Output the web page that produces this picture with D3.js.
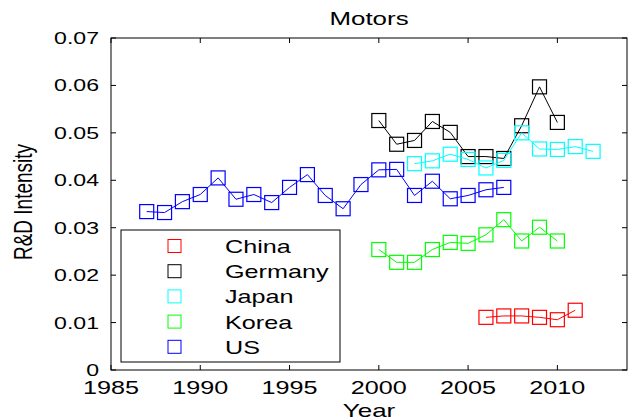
<!DOCTYPE html>
<html>
<head>
<meta charset="utf-8">
<script src="https://cdn.jsdelivr.net/npm/d3@7"></script>
<style>
  body { margin: 0; background: #fff; }
  text { font-family: "Liberation Sans", Arial, sans-serif; fill: #000; }
</style>
</head>
<body>
<svg id="chart" width="629" height="420"></svg>
<script>
// data
const countries = ['China', 'Germany', 'Japan', 'Korea', 'US'];
const colors = ['#ff0000', '#000000', '#00ffff', '#00ff00', '#0000ff'];

const chinaYears = [2006, 2007, 2008, 2009, 2010, 2011];
const chinaValues = [0.0111, 0.0114, 0.0114, 0.0111, 0.0106, 0.0126];

const germanyYears = [2000, 2001, 2002, 2003, 2004, 2005, 2006, 2007, 2008, 2009, 2010];
const germanyValues = [0.0526, 0.0476, 0.0484, 0.0524, 0.0501, 0.0450, 0.0450, 0.0446, 0.0515, 0.0597, 0.0522];

const japanYears = [2002, 2003, 2004, 2005, 2006, 2007, 2008, 2009, 2010, 2011, 2012];
const japanValues = [0.0435, 0.0441, 0.0455, 0.0444, 0.0426, 0.0442, 0.0500, 0.0466, 0.0465, 0.0471, 0.0461];

const koreaYears = [2000, 2001, 2002, 2003, 2004, 2005, 2006, 2007, 2008, 2009, 2010];
const koreaValues = [0.0254, 0.0227, 0.0227, 0.0254, 0.0269, 0.0267, 0.0285, 0.0317, 0.0272, 0.0301, 0.0272];

const usYears = [1987, 1988, 1989, 1990, 1991, 1992, 1993, 1994, 1995, 1996, 1997, 1998, 1999, 2000, 2001, 2002, 2003, 2004, 2005, 2006, 2007];
const usValues = [0.0334, 0.0332, 0.0355, 0.0370, 0.0405, 0.0360, 0.0370, 0.0353, 0.0385, 0.0412, 0.0368, 0.0340, 0.0391, 0.0422, 0.0423, 0.0368, 0.0398, 0.0361, 0.0368, 0.0380, 0.0385];

const xTicks = [1985, 1990, 1995, 2000, 2005, 2010];
const yTicks = [0, 0.01, 0.02, 0.03, 0.04, 0.05, 0.06, 0.07];

const series = [
  { name: 'China', years: chinaYears, values: chinaValues },
  { name: 'Germany', years: germanyYears, values: germanyValues },
  { name: 'Japan', years: japanYears, values: japanValues },
  { name: 'Korea', years: koreaYears, values: koreaValues },
  { name: 'US', years: usYears, values: usValues },
];

const svg = d3.select('#chart');
const margin = { left: 111, right: 2, top: 38, bottom: 50 };
const width = 629, height = 420;
const sx = 1.4; // the reference text is stretched sideways

const x = d3.scaleLinear().domain([1985, 2013.9]).range([margin.left, width - margin.right]);
const y = d3.scaleLinear().domain([0, 0.07]).range([height - margin.bottom, margin.top]);

function label(g, txt, px, py, size, anchor, rot) {
  return g.append('text')
    .attr('transform', `translate(${px},${py}) scale(${sx},1)` + (rot ? ` rotate(${rot})` : ''))
    .attr('text-anchor', anchor)
    .style('font-size', size + 'px')
    .text(txt);
}

const color = d3.scaleOrdinal().domain(countries).range(colors);

// axes box with inward ticks
const [x0, x1] = x.range();
const [y0, y1] = y.range();
const axes = svg.append('g');
axes.append('rect')
  .attr('x', x0).attr('y', y1)
  .attr('width', x1 - x0).attr('height', y0 - y1)
  .attr('fill', 'none').attr('stroke', '#000').attr('stroke-width', 1);

xTicks.forEach((t) => {
  const px = x(t);
  axes.append('line').attr('x1', px).attr('x2', px).attr('y1', y0).attr('y2', y0 - 5).attr('stroke', '#000');
  axes.append('line').attr('x1', px).attr('x2', px).attr('y1', y1).attr('y2', y1 + 5).attr('stroke', '#000');
  label(axes, t, px, y0 + 24, 18, 'middle');
});
yTicks.forEach((t) => {
  const py = y(t);
  axes.append('line').attr('x1', x0).attr('x2', x0 + 5).attr('y1', py).attr('y2', py).attr('stroke', '#000');
  axes.append('line').attr('x1', x1).attr('x2', x1 - 5).attr('y1', py).attr('y2', py).attr('stroke', '#000');
  label(axes, t === 0 ? '0' : t.toFixed(2), x0 - 12, py + 6, 16.5, 'end');
});

label(svg, 'Motors', (x0 + x1) / 2, 25, 18.5, 'middle');
label(svg, 'Year', (x0 + x1) / 2, 417, 18.5, 'middle');
label(svg, 'R&D Intensity', 32, 202, 19, 'middle', -90);

// series
const line = d3.line().x((d) => x(d[0])).y((d) => y(d[1]));
const box = 14;

series.forEach((s) => {
  const pts = s.years.map((yr, i) => [yr, s.values[i]]);
  const g = svg.append('g').attr('class', 'series');
  g.append('path')
    .datum(pts)
    .attr('d', line)
    .attr('fill', 'none')
    .attr('stroke', color(s.name))
    .attr('stroke-width', 1);
  g.selectAll('rect')
    .data(pts)
    .join('rect')
    .attr('x', (d) => x(d[0]) - box / 2)
    .attr('y', (d) => y(d[1]) - box / 2)
    .attr('width', box)
    .attr('height', box)
    .attr('fill', 'none')
    .attr('stroke', color(s.name))
    .attr('stroke-width', 1.2);
});

// legend
const legend = svg.append('g').attr('transform', 'translate(121,230)');
legend.append('rect')
  .attr('width', 219).attr('height', 132)
  .attr('fill', '#fff').attr('stroke', '#000');
legend.selectAll('.legend-item')
  .data(countries)
  .join('g')
  .classed('legend-item', true)
  .attr('transform', (d, i) => `translate(0, ${16 + 25.2 * i})`)
  .call((g) => g.append('rect')
    .attr('x', 47).attr('y', -6.5)
    .attr('width', 13).attr('height', 13)
    .attr('fill', 'none')
    .attr('stroke', (d) => color(d)))
  .each(function (d) {
    label(d3.select(this), d, 104, 7, 18, 'start');
  });
</script>
</body>
</html>
